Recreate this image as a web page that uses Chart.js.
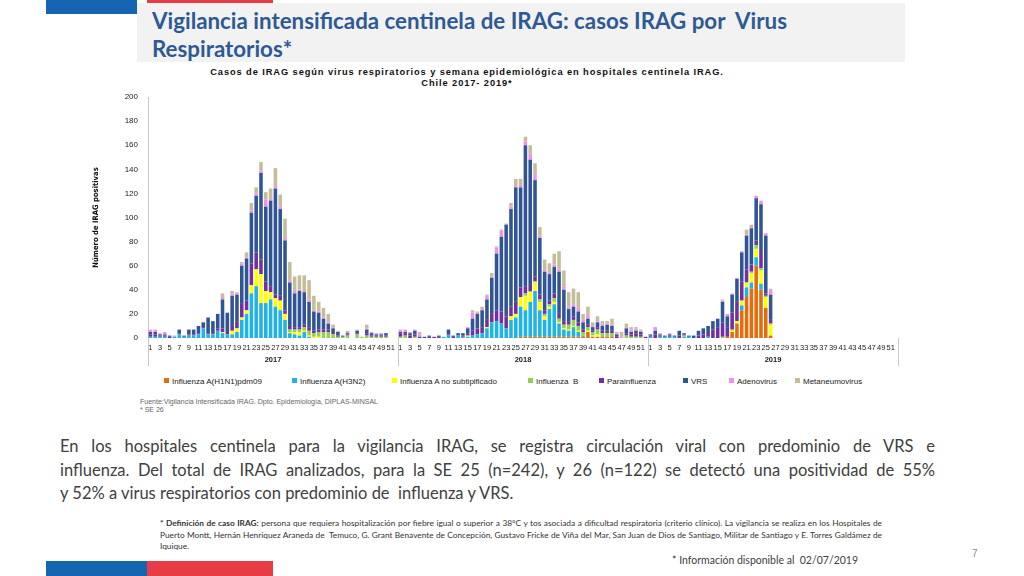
<!DOCTYPE html>
<html>
<head>
<meta charset="utf-8">
<script src="https://cdn.jsdelivr.net/npm/chart.js@4.4.1/dist/chart.umd.min.js"></script>
<style>
  body { margin: 0; width: 1024px; height: 576px; overflow: hidden; background: #fff; position: relative; font-family: 'Liberation Sans', Arial, sans-serif; }
  .abs { position: absolute; }
  #titleBox { left: 137px; top: 3px; width: 768px; height: 59px; background: #f2f2f2; }
  #titleText { position: absolute; left: 15px; top: 3px; transform-origin: 0 0; font-family: Lato, sans-serif; font-weight: bold; font-size: 23.5px; line-height: 28px; color: #2d5a96; white-space: nowrap; }
  #chartTitle { left: 60px; top: 67px; width: 814px; text-align: center; font-size: 9.3px; font-weight: bold; letter-spacing: 0.9px; line-height: 10.5px; color: #111; }
  #chartBox { left: 60px; top: 62px; width: 860px; height: 310px; }
  #legend { left: 0; top: 377px; width: 1024px; height: 12px; font-size: 8px; color: #222; white-space: nowrap; }
  #legend div { position: absolute; top: 0; }
  #legend span.sw { display: inline-block; width: 5px; height: 5px; margin-right: 3px; vertical-align: 1px; }
  #source { left: 140px; top: 398px; font-size: 7px; color: #666; line-height: 7.5px; }
  #para { left: 60px; top: 435px; width: 875px; font-family: Lato, 'Open Sans', sans-serif; font-size: 16.5px; color: #404040; line-height: 23.5px; }
  #para div, #foot div { text-align: justify; text-align-last: justify; white-space: nowrap; }
  #para div.last, #foot div.last { text-align-last: left; }
  #foot { left: 160px; top: 518px; width: 722px; font-family: Lato, sans-serif; font-size: 8.3px; color: #333; line-height: 11.5px; }
  #info { left: 672px; top: 554px; font-family: Lato, sans-serif; font-size: 10.5px; color: #404040; }
  #page { left: 972px; top: 548px; font-size: 10px; color: #888; }
</style>
</head>
<body>
<div class="abs" style="left:46px;top:0;width:91px;height:14px;background:#1565b0"></div>
<div class="abs" style="left:147px;top:0;width:126px;height:3px;background:#e63c45"></div>
<div class="abs" id="titleBox">
  <div id="titleText"><span id="titleLine1">Vigilancia intensificada centinela de IRAG: casos IRAG por&nbsp; Virus</span><br>Respiratorios*</div>
</div>

<div class="abs" id="chartTitle">Casos de IRAG según virus respiratorios y semana epidemiológica en hospitales centinela IRAG.<br>Chile 2017- 2019*</div>
<div class="abs" id="chartBox"><canvas id="irag"></canvas></div>
<div class="abs" id="legend"></div>
<div class="abs" id="source">Fuente:Vigilancia Intensificada IRAG. Dpto. Epidemiología, DIPLAS-MINSAL<br>* SE 26</div>

<div class="abs" id="para">
  <div>En los hospitales centinela para la vigilancia IRAG, se registra circulación viral con predominio de VRS e</div>
  <div>influenza. Del total de IRAG analizados, para la SE 25 (n=242), y 26 (n=122) se detectó una positividad de 55%</div>
  <div class="last">y 52% a virus respiratorios con predominio de&nbsp; influenza y VRS.</div>
</div>

<div class="abs" id="foot">
  <div><b>* Definición de caso IRAG:</b> persona que requiera hospitalización por fiebre igual o superior a 38°C y tos asociada a dificultad respiratoria (criterio clínico). La vigilancia se realiza en los Hospitales de</div>
  <div>Puerto Montt, Hernán Henríquez Araneda de&nbsp; Temuco, G. Grant Benavente de Concepción, Gustavo Fricke de Viña del Mar, San Juan de Dios de Santiago, Militar de Santiago y E. Torres Galdámez de</div>
  <div class="last">Iquique.</div>
</div>
<div class="abs" id="info">* Información disponible al&nbsp; 02/07/2019</div>
<div class="abs" id="page">7</div>

<div class="abs" style="left:46px;top:561px;width:101px;height:15px;background:#1565b0"></div>
<div class="abs" style="left:147px;top:561px;width:126px;height:15px;background:#e63c45"></div>

<script>
// semanas epidemiológicas y años
const weeks = [1,2,3,4,5,6,7,8,9,10,11,12,13,14,15,16,17,18,19,20,21,22,23,24,25,26,
  27,28,29,30,31,32,33,34,35,36,37,38,39,40,41,42,43,44,45,46,47,48,49,50,51,52];
const years = ['2017', '2018', '2019'];

// casos por virus: 2017 (52 sem), 2018 (52 sem), 2019 (hasta SE 26)
const h1n1 = [
  0,0,0,0,0,0,0,0,0,0, 0,0,0,0,0,0,0,0,0,0, 0,0,0,0,0,0,0,0,0,0, 0,0,0,0,0,0,0,0,0,0, 0,0,0,0,0,0,0,0,0,0, 0,0,
  0,0,0,0,0,0,0,0,0,0, 0,0,0,0,0,0,0,0,0,0, 0,0,0,0,0,1,1,1,1,1, 1,1,1,1,1,1,1,1,1,5, 1,1,1,1,1,0,0,0,0,0, 0,0,
  0,0,0,0,0,0,0,0,0,0, 0,0,0,0,0,0,1,5,12,23, 34,41,60,40,25,2
];
const h3n2 = [
  1,1,1,1,0,1,3,1,2,2, 3,8,3,3,6,4,3,3,5,15, 20,37,43,29,29,32,26,23,15,4, 3,2,5,1,0,0,0,0,0,0, 0,0,0,0,0,0,0,0,0,0, 0,0,
  0,0,0,0,0,0,0,0,0,1, 2,0,2,1,1,2,3,4,8,13, 14,12,8,15,17,25,22,29,38,22, 14,23,27,11,6,5,8,4,1,0, 0,0,0,0,0,0,0,0,0,0, 0,0,
  1,0,1,1,1,1,0,1,1,0, 0,0,1,0,0,0,0,0,0,4, 8,5,7,5,0,0
];
const aNoSub = [
  0,0,0,0,0,0,0,0,0,0, 0,0,0,0,0,1,0,3,3,2, 3,7,14,24,10,6,7,8,5,1, 2,3,1,1,1,1,0,0,0,0, 0,0,0,0,0,0,0,0,0,0, 0,0,
  0,0,0,0,0,0,0,0,0,0, 0,0,0,0,1,0,0,0,1,0, 0,0,0,3,3,8,12,8,7,7, 3,2,2,1,1,1,1,1,0,1, 1,2,0,0,0,0,0,0,0,0, 0,0,
  0,0,0,0,0,0,0,0,0,0, 0,0,0,0,0,0,0,1,2,4, 4,8,7,11,9,9
];
const fluB = [
  0,0,0,0,0,0,0,0,0,0, 0,0,0,0,0,0,0,0,0,0, 0,0,0,0,0,0,0,0,0,2, 2,2,3,4,3,4,5,5,3,1, 1,2,0,3,1,2,1,1,1,1, 0,0,
  1,2,0,1,0,0,0,0,0,0, 0,0,0,0,0,0,0,0,0,0, 0,0,0,0,0,0,2,1,1,2, 2,2,3,3,3,4,5,4,3,3, 3,4,3,3,3,0,0,2,1,1, 1,0,
  0,0,0,0,0,0,0,1,0,0, 0,0,0,0,0,1,0,1,0,0, 0,1,3,2,1,1
];
const paraflu = [
  2,2,1,1,1,0,1,0,1,1, 1,1,1,1,2,3,2,4,6,12, 8,18,14,12,8,5,3,4,3,3, 2,2,2,3,2,2,2,2,2,1, 0,1,0,1,0,2,1,1,1,1, 0,0,
  3,2,2,2,0,0,1,1,1,0, 1,1,0,1,2,4,5,5,6,7, 9,10,10,8,10,8,6,5,4,4, 3,3,4,4,3,3,3,3,2,2, 1,2,2,2,2,1,0,2,2,3, 2,1,
  1,3,1,0,1,0,2,1,0,0, 2,3,4,7,9,12,8,14,16,16, 11,6,4,15,2,3
];
const vrs = [
  2,2,1,1,1,0,3,1,4,4, 6,4,13,10,12,24,16,25,22,31, 35,42,47,72,62,71,88,72,58,36, 28,30,27,21,16,14,9,5,3,3, 1,1,0,2,0,3,2,1,1,2, 0,0,
  1,1,2,3,1,1,1,0,1,0, 4,1,2,2,4,10,12,14,17,30, 47,62,76,81,95,83,117,104,80,47, 32,22,22,35,26,10,8,9,6,5, 3,4,4,5,4,2,0,4,2,2, 2,0,
  1,3,1,1,1,1,4,1,1,2, 4,5,5,7,7,17,9,15,19,24, 28,30,35,38,48,21
];
const adeno = [
  2,2,1,2,0,1,0,0,0,0, 0,0,0,0,0,2,0,2,1,2, 1,2,2,2,6,2,2,2,2,2, 2,1,1,2,1,1,1,1,1,0, 0,1,0,0,0,1,1,1,1,0, 0,0,
  2,2,1,1,2,0,0,0,0,0, 0,0,0,0,1,5,1,1,3,1, 5,5,0,2,1,2,3,5,5,2, 2,1,2,2,3,2,2,3,2,3, 1,1,2,1,1,1,1,1,2,2, 1,0,
  0,3,1,0,1,0,0,0,0,0, 0,0,0,0,0,1,2,1,1,1, 1,1,2,3,2,4
];
const metapneumo = [
  0,0,0,0,0,0,0,0,0,0, 0,0,0,0,0,3,0,2,1,1, 4,6,5,7,6,8,15,10,16,15, 12,12,13,16,12,8,8,7,2,1, 0,1,0,1,0,3,0,0,0,0, 0,0,
  0,0,0,0,2,0,0,0,0,0, 0,0,0,0,0,2,1,2,1,3, 1,1,1,3,6,5,4,7,9,7, 8,8,9,15,13,12,13,13,5,7, 3,4,2,2,5,1,4,3,2,1, 1,0,
  0,0,0,0,0,0,0,0,0,0, 0,0,0,0,0,1,0,0,0,0, 4,2,0,0,0,1
];

const seriesNames = ['Influenza A(H1N1)pdm09', 'Influenza A(H3N2)', 'Influenza A no subtipificado',
  'Influenza  B', 'Parainfluenza', 'VRS', 'Adenovirus', 'Metaneumovirus'];
const seriesData = [h1n1, h3n2, aNoSub, fluB, paraflu, vrs, adeno, metapneumo];
const seriesColors = ['#e46c0a', '#1fb3e6', '#ffff00', '#92d050', '#7030a0', '#2f5597', '#ee92ee', '#c4bd97'];
const legendLeft = [164, 292, 392, 528, 599, 683, 729, 795];

const labels = weeks.concat(weeks, weeks);

// lineas y etiquetas de año bajo el eje
const yearBands = {
  id: 'yearBands',
  afterDraw(chart) {
    const { ctx, chartArea, scales: { x } } = chart;
    const half = (x.getPixelForValue(1) - x.getPixelForValue(0)) / 2;
    ctx.save();
    ctx.strokeStyle = '#c8c8c8';
    ctx.lineWidth = 1;
    ctx.fillStyle = '#222';
    ctx.font = 'bold 7.5px "Liberation Sans"';
    ctx.textAlign = 'center';
    ctx.textBaseline = 'middle';
    years.forEach((yr, i) => {
      const a = x.getPixelForValue(i * 52) - half;
      const b = x.getPixelForValue(i * 52 + 51) + half;
      [a, b].forEach(px => {
        ctx.beginPath();
        ctx.moveTo(Math.round(px) + 0.5, chartArea.bottom);
        ctx.lineTo(Math.round(px) + 0.5, chartArea.bottom + 28);
        ctx.stroke();
      });
      ctx.fillText(yr, (a + b) / 2, chartArea.bottom + 22);
    });
    ctx.restore();
  }
};

const chart = new Chart(document.getElementById('irag'), {
  type: 'bar',
  data: {
    labels: labels,
    datasets: seriesNames.map((name, i) => ({
      label: name,
      data: seriesData[i],
      backgroundColor: seriesColors[i],
      barPercentage: 0.74,
      categoryPercentage: 1
    }))
  },
  options: {
    responsive: true,
    maintainAspectRatio: false,
    animation: false,
    layout: { padding: { left: 0, right: 22, top: 35, bottom: 0 } },
    plugins: {
      legend: { display: false },
      tooltip: { enabled: false }
    },
    scales: {
      x: {
        stacked: true,
        grid: { display: false, drawTicks: false },
        border: { display: false },
        ticks: {
          autoSkip: false,
          maxRotation: 0,
          minRotation: 0,
          padding: 5,
          color: '#222',
          font: { size: 7.5, family: 'Liberation Sans' },
          callback: (v, i) => (weeks[i % 52] % 2 ? String(weeks[i % 52]) : '')
        },
        afterFit: s => { s.height = 34; }
      },
      y: {
        stacked: true,
        min: 0,
        max: 200,
        grid: { display: false, drawTicks: false },
        border: { display: true, color: '#c8c8c8' },
        ticks: { stepSize: 20, padding: 10, color: '#222', font: { size: 8, family: 'Liberation Sans' } },
        title: {
          display: true,
          text: 'Número de IRAG positivas',
          color: '#111',
          font: { size: 7.6, weight: 'bold', family: 'DejaVu Sans Condensed' },
          padding: { top: 31, bottom: 0 }
        },
        afterFit: s => { s.width = 88; }
      }
    }
  },
  plugins: [yearBands]
});

// leyenda en html
const legendBox = document.getElementById('legend');
seriesNames.forEach((name, i) => {
  const item = document.createElement('div');
  item.style.left = legendLeft[i] + 'px';
  item.innerHTML = '<span class="sw" style="background:' + seriesColors[i] + '"></span>' + name.replace('  ', '&nbsp; ');
  legendBox.appendChild(item);
});

// titulo de la lámina ajustado al ancho del original (letra condensada)
const t = document.getElementById('titleText');
const w1 = document.getElementById('titleLine1').getBoundingClientRect().width;
t.style.transform = 'scaleX(' + (635 / w1) + ')';
</script>
</body>
</html>
